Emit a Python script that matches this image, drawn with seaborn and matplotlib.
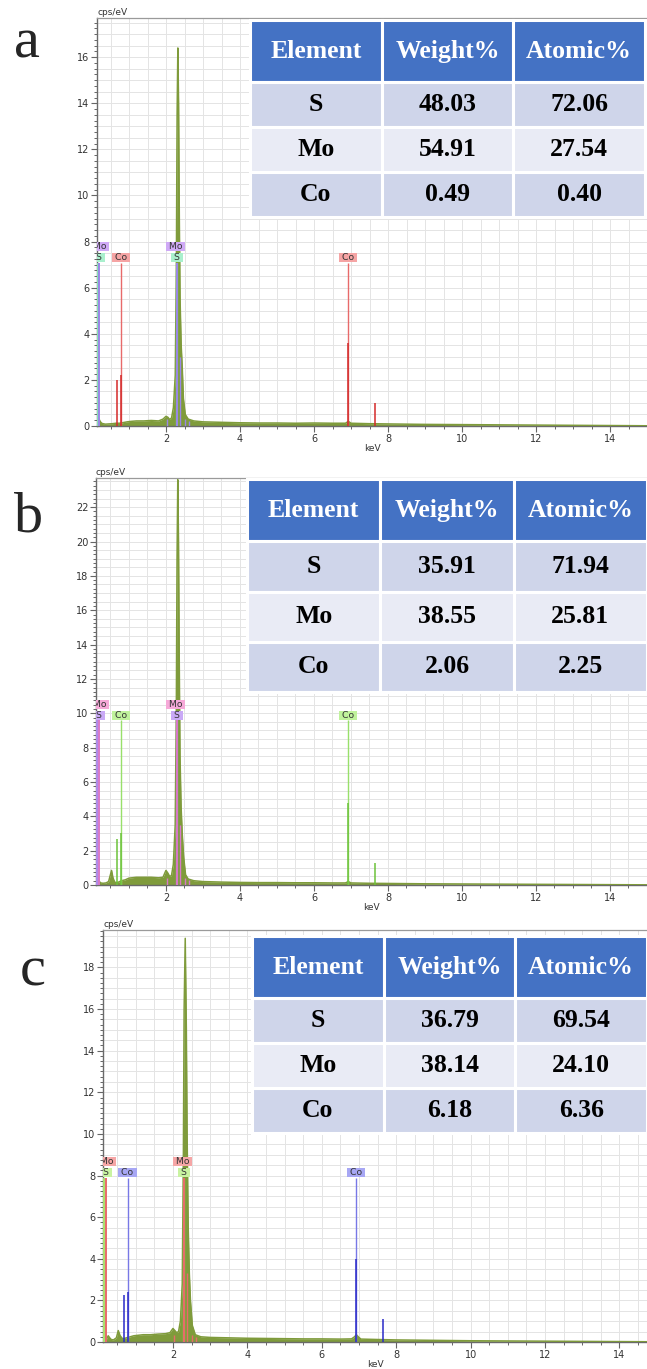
import numpy as np
import pandas as pd
import matplotlib
matplotlib.use("Agg")
import matplotlib.pyplot as plt
from matplotlib.ticker import MultipleLocator
import seaborn as sns

# ------------------------------------------------------------------ data
table_cols = ["Element", "Weight%", "Atomic%"]
elements = ["S", "Mo", "Co"]
weight_a = ["48.03", "54.91", "0.49"]
atomic_a = ["72.06", "27.54", "0.40"]
weight_b = ["35.91", "38.55", "2.06"]
atomic_b = ["71.94", "25.81", "2.25"]
weight_c = ["36.79", "38.14", "6.18"]
atomic_c = ["69.54", "24.10", "6.36"]

energy_a = [0.13, 0.16, 0.19, 0.22, 0.26, 0.30, 0.36, 0.45, 0.55, 0.65,
            0.75, 0.85, 0.95, 1.05, 1.2, 1.4, 1.6, 1.8, 1.92, 2.00,
            2.05, 2.10, 2.15, 2.20, 2.25, 2.28, 2.30, 2.32, 2.34, 2.36,
            2.38, 2.41, 2.44, 2.47, 2.52, 2.60, 2.75, 3.0, 3.5, 4.0,
            4.5, 5.0, 5.5, 6.0, 6.5, 6.85, 6.93, 7.0, 7.5, 8.0,
            9.0, 10.0, 11.0, 12.0, 13.0, 14.0, 15.0]
counts_a = [0.6, 0.45, 0.3, 0.2, 0.12, 0.1, 0.08, 0.09, 0.1, 0.12,
            0.12, 0.15, 0.18, 0.2, 0.22, 0.22, 0.24, 0.22, 0.3, 0.42,
            0.38, 0.28, 0.35, 0.8, 2.2, 7.0, 13.5, 16.4, 14.0, 9.0,
            5.5, 3.5, 2.5, 1.2, 0.5, 0.3, 0.22, 0.18, 0.16, 0.14,
            0.13, 0.13, 0.12, 0.13, 0.12, 0.12, 0.2, 0.12, 0.1, 0.09,
            0.07, 0.06, 0.05, 0.04, 0.03, 0.02, 0.01]

energy_b = [0.11, 0.14, 0.17, 0.20, 0.24, 0.30, 0.38, 0.45, 0.50, 0.53,
            0.57, 0.62, 0.70, 0.80, 0.90, 1.0, 1.2, 1.4, 1.6, 1.8,
            1.92, 2.00, 2.05, 2.10, 2.15, 2.20, 2.25, 2.28, 2.30, 2.32,
            2.34, 2.36, 2.38, 2.41, 2.44, 2.48, 2.53, 2.60, 2.75, 3.0,
            3.5, 4.0, 4.5, 5.0, 5.5, 6.0, 6.5, 6.85, 6.93, 7.0,
            7.5, 8.0, 9.0, 10.0, 11.0, 12.0, 13.0, 14.0, 15.0]
counts_b = [0.6, 0.5, 0.35, 0.2, 0.12, 0.1, 0.12, 0.2, 0.6, 0.85,
            0.4, 0.15, 0.15, 0.25, 0.3, 0.4, 0.45, 0.45, 0.45, 0.42,
            0.45, 0.85, 0.7, 0.5, 0.55, 1.2, 3.5, 10.0, 19.0, 23.6,
            20.0, 13.0, 7.5, 4.5, 3.0, 1.6, 0.6, 0.35, 0.25, 0.2,
            0.17, 0.15, 0.14, 0.14, 0.13, 0.13, 0.12, 0.12, 0.2, 0.12,
            0.1, 0.09, 0.07, 0.06, 0.05, 0.04, 0.03, 0.02, 0.01]

energy_c = [0.12, 0.15, 0.18, 0.22, 0.26, 0.30, 0.34, 0.40, 0.48, 0.53,
            0.58, 0.65, 0.75, 0.85, 0.95, 1.05, 1.2, 1.4, 1.6, 1.8,
            1.92, 2.00, 2.05, 2.10, 2.15, 2.20, 2.25, 2.28, 2.30, 2.33,
            2.36, 2.38, 2.41, 2.44, 2.47, 2.52, 2.60, 2.75, 3.0, 3.5,
            4.0, 4.5, 5.0, 5.5, 6.0, 6.5, 6.80, 6.88, 6.93, 6.98,
            7.05, 7.5, 8.0, 9.0, 10.0, 11.0, 12.0, 13.0, 14.0, 15.0]
counts_c = [0.6, 0.45, 0.2, 0.15, 0.3, 0.2, 0.12, 0.1, 0.2, 0.55,
            0.3, 0.15, 0.2, 0.25, 0.3, 0.32, 0.35, 0.35, 0.38, 0.4,
            0.45, 0.65, 0.55, 0.45, 0.5, 1.0, 2.8, 9.0, 16.0, 19.4,
            15.0, 10.0, 5.5, 3.3, 2.0, 0.8, 0.35, 0.25, 0.22, 0.2,
            0.18, 0.17, 0.16, 0.15, 0.15, 0.14, 0.15, 0.25, 0.35, 0.25,
            0.14, 0.12, 0.1, 0.08, 0.06, 0.05, 0.04, 0.03, 0.02, 0.01]

# element marker lines (keV)
mo_marker_kev = [0.19, 2.29]
s_marker_kev = [0.15, 2.31]
co_marker_kev = [0.78, 6.93]
# fitted Co line intensities (keV, cps/eV)
co_line_kev = [0.68, 0.78, 6.93, 7.65]
co_line_a = [2.0, 2.2, 3.6, 1.0]
co_line_b = [2.7, 3.0, 4.8, 1.3]
co_line_c = [2.25, 2.4, 4.0, 1.1]
# fitted Mo L-family lines (keV, cps/eV)
mo_line_kev = [2.02, 2.39, 2.52, 2.62]
mo_line_a = [0.3, 3.0, 0.3, 0.2]
mo_line_b = [0.4, 3.5, 0.4, 0.3]
mo_line_c = [0.35, 3.3, 0.35, 0.25]

# ------------------------------------------------------------------ style
sns.set_style("white")
plt.rcParams["font.family"] = ["DejaVu Sans"]

SPEC = "#7f9b3b"
GRID = "#e4e4e4"

panels = [
    dict(letter="a", energy=energy_a, counts=counts_a, weight=weight_a, atomic=atomic_a,
         rect=[97/647, 1-426/1369, 550/647, 408/1369], xlim=(0.135, 15.0), ymax=17.7,
         levels=(7.77, 7.29), line_top=7.08, left_lab=0.20,
         col={"Mo": ("#9a86e6", "#cfa9f6"), "S": ("#86dfb4", "#a9f0cd"), "Co": ("#e86a6a", "#f5a4a4")},
         dark_co="#d42a2a", co_lines=co_line_a, mo_lines=mo_line_a,
         tbbox=[(250-97)/550, (426-217)/408, (645-250)/550, (217-20)/408], hdr=1.38,
         letter_xy=(14, 57)),
    dict(letter="b", energy=energy_b, counts=counts_b, weight=weight_b, atomic=atomic_b,
         rect=[96/647, 1-885/1369, 551/647, 407/1369], xlim=(0.11, 15.0), ymax=23.7,
         levels=(10.5, 9.87), line_top=9.6, left_lab=0.20,
         col={"Mo": ("#d878c8", "#f6a9d8"), "S": ("#b08ae8", "#c9a9f6"), "Co": ("#98e06a", "#c0f29c")},
         dark_co="#6cc23a", co_lines=co_line_b, mo_lines=mo_line_b,
         tbbox=[(247-96)/551, (885-692)/407, (647-247)/551, (692-479)/407], hdr=1.24,
         letter_xy=(14, 532)),
    dict(letter="c", energy=energy_c, counts=counts_c, weight=weight_c, atomic=atomic_c,
         rect=[103/647, 1-1342/1369, 544/647, 412/1369], xlim=(0.12, 14.74), ymax=19.8,
         levels=(8.67, 8.16), line_top=7.9, left_lab=0.22,
         col={"Mo": ("#e86a6a", "#f6a6a6"), "S": ("#a9e06e", "#c9f3a1"), "Co": ("#7878e6", "#a7a7f4")},
         dark_co="#2a2ac8", co_lines=co_line_c, mo_lines=mo_line_c,
         tbbox=[(252-103)/544, (1342-1133)/412, (647-252)/544, (1133-936)/412], hdr=1.38,
         letter_xy=(20, 985)),
]

fig = plt.figure(figsize=(6.47, 13.69), dpi=100)

for p in panels:
    ax = fig.add_axes(p["rect"])
    ax.set_xlim(*p["xlim"])
    ax.set_ylim(0, p["ymax"])

    # grid
    ax.xaxis.set_major_locator(MultipleLocator(2))
    ax.xaxis.set_minor_locator(MultipleLocator(0.5))
    ax.yaxis.set_major_locator(MultipleLocator(2))
    ax.yaxis.set_minor_locator(MultipleLocator(0.25))
    ax.grid(which="both", axis="x", color=GRID, lw=0.7, zorder=0)
    for v in np.arange(0.5, p["ymax"], 0.5):
        ax.axhline(v, color=GRID, lw=0.7, zorder=0)
    ax.set_axisbelow(True)

    # spectrum
    df = pd.DataFrame({"keV": p["energy"], "cps": p["counts"]})
    ax.fill_between(df["keV"], df["cps"], color=SPEC, lw=0, zorder=2)
    sns.lineplot(data=df, x="keV", y="cps", ax=ax, color=SPEC, lw=1.1, zorder=3)

    col = p["col"]
    top = p["line_top"]
    # element marker lines
    ax.vlines(s_marker_kev, 0, top, color=col["S"][0], lw=1.6, zorder=4)
    ax.vlines(mo_marker_kev, 0, top, color=col["Mo"][0], lw=1.4, zorder=4)
    ax.vlines(co_marker_kev, 0, top, color=col["Co"][0], lw=1.0, zorder=4)
    # fitted line intensities
    ax.vlines(co_line_kev, 0, p["co_lines"], color=p["dark_co"], lw=1.1, zorder=5)
    ax.vlines(mo_line_kev, 0, p["mo_lines"], color=col["Mo"][0], lw=1.0, zorder=5)

    # labels
    up, low = p["levels"]
    labs = [("Mo", p["left_lab"], up), ("S", p["left_lab"] - 0.01, low),
            ("Mo", mo_marker_kev[1] - 0.03, up), ("S", s_marker_kev[1] - 0.02, low),
            ("Co", co_marker_kev[0], low), ("Co", co_marker_kev[1], low)]
    for name, xk, yv in labs:
        ax.text(xk, yv, " " + name + " ", ha="center", va="center", fontsize=6.7,
                color="#333333",
                bbox=dict(boxstyle="square,pad=0.0", fc=col[name][1], ec="none"),
                zorder=6, clip_on=True)

    # axes cosmetics
    for s in ["left", "bottom"]:
        ax.spines[s].set_color("#6a6a6a")
        ax.spines[s].set_linewidth(1.0)
    ax.spines["top"].set_color("#9a9a9a")
    ax.spines["top"].set_linewidth(0.9)
    ax.spines["right"].set_visible(False)
    ax.tick_params(which="major", direction="out", length=4, width=0.8, color="#666666",
                   labelsize=7, labelcolor="#333333", pad=1.5,
                   bottom=True, left=True)
    ax.tick_params(which="minor", direction="out", length=2.5, width=0.7, color="#666666",
                   bottom=True, left=True)
    ax.set_xlabel("keV", fontsize=6.5, color="#333333", labelpad=0)
    ax.set_ylabel("")
    ax.text(0.0, 1.003, "cps/eV", transform=ax.transAxes, ha="left", va="bottom",
            fontsize=6.5, color="#333333")

    # table
    cells = [[e, w, a] for e, w, a in zip(elements, p["weight"], p["atomic"])]
    tb = ax.table(cellText=cells, colLabels=table_cols, cellLoc="center",
                  bbox=p["tbbox"])
    tb.auto_set_font_size(False)
    tb.set_zorder(8)
    for (r, c), cell in tb.get_celld().items():
        cell.set_edgecolor("white")
        cell.set_linewidth(2.2)
        cell.set_height(p["hdr"] if r == 0 else 1.0)
        txt = cell.get_text()
        txt.set_fontfamily("Liberation Serif")
        txt.set_fontweight("bold")
        txt.set_fontsize(18.5)
        if r == 0:
            cell.set_facecolor("#4472C4")
            txt.set_color("white")
        else:
            cell.set_facecolor("#CFD5EA" if r % 2 == 1 else "#E9EBF5")
            txt.set_color("black")

    lx, ly = p["letter_xy"]
    fig.text(lx / 647, 1 - ly / 1369, p["letter"], fontsize=42,
             family="Liberation Serif", va="baseline", ha="left")

fig.savefig("out.png", dpi=100)
